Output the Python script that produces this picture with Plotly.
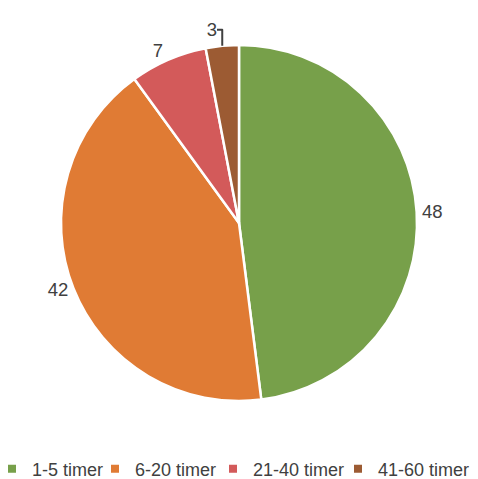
import plotly.graph_objects as go

categories = ["1-5 timer", "6-20 timer", "21-40 timer", "41-60 timer"]
values = [48, 42, 7, 3]
colors = ["#77a04a", "#e07b34", "#d35a5a", "#9c5b33"]

# the page has an 8px body margin, so the figure is a bit smaller
W, H = 470, 471

# where each legend entry starts (px from the left edge of the figure)
legend_x_px = [-16, 87, 205, 330]

fig = go.Figure(go.Pie(
    labels=categories,
    values=values,
    sort=False,
    direction="clockwise",
    rotation=0,
    marker=dict(colors=colors, line=dict(color="white", width=2.5)),
    textinfo="value",
    textposition="outside",
    textfont=dict(size=18.5, color="#404040"),
    domain=dict(x=[53 / W, 409 / W], y=[78 / H, 434 / H]),
    hoverinfo="label+value",
    showlegend=False,
))

# legend entries, one legend each so they can sit like the original
layout_legends = {}
for i, (cat, col) in enumerate(zip(categories, colors)):
    name = "legend" if i == 0 else f"legend{i + 1}"
    fig.add_trace(go.Scatter(
        x=[None], y=[None], mode="markers", name=cat,
        marker=dict(symbol="square", size=8, color=col),
        legend=name, hoverinfo="skip",
    ))
    layout_legends[name] = dict(
        x=legend_x_px[i] / W, xanchor="left", y=10 / H, yanchor="middle",
        font=dict(size=18, color="#404040"), bgcolor="rgba(0,0,0,0)",
    )

fig.update_layout(
    width=W, height=H,
    margin=dict(l=0, r=0, t=0, b=0, autoexpand=False),
    paper_bgcolor="white",
    plot_bgcolor="white",
    font=dict(family="Liberation Sans, Arial, sans-serif", size=18, color="#404040"),
    xaxis=dict(visible=False),
    yaxis=dict(visible=False),
    **layout_legends,
)

fig.write_html("out.html")
